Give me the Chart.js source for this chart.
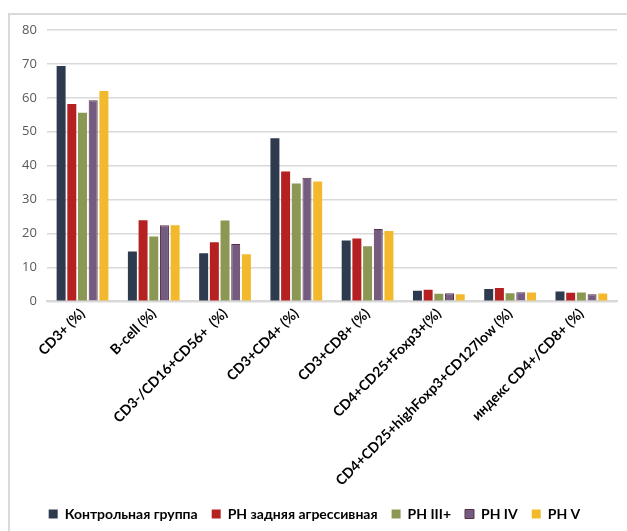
<!DOCTYPE html>
<html>
<head>
<meta charset="utf-8">
<script src="https://cdn.jsdelivr.net/npm/chart.js@4/dist/chart.umd.min.js"></script>
<style>
  html, body { margin: 0; padding: 0; background: #fff; }
  #wrap { position: relative; width: 627px; height: 531px; }
  #frame { position: absolute; left: 8px; top: 13px; right: -4px; bottom: -4px;
           border-left: 2px solid #d9d9d9; border-top: 2px solid #d9d9d9; }
  canvas { position: absolute; left: 0; top: 0; }
</style>
</head>
<body>
<div id="wrap">
  <div id="frame"></div>
  <canvas id="c" width="627" height="531"></canvas>
</div>
<script>
const categories = [
  'CD3+ (%)',
  'B-cell (%)',
  'CD3-/CD16+CD56+  (%)',
  'CD3+CD4+ (%)',
  'CD3+CD8+ (%)',
  'CD4+CD25+Foxp3+(%)',
  'CD4+CD25+highFoxp3+CD127low (%)',
  'индекс CD4+/CD8+ (%)'
];
const seriesNames = ['Контрольная группа', 'PH задняя агрессивная', 'PH III+', 'PH IV', 'PH V'];
const control     = [69.4, 14.7, 14.2, 48.1, 17.9, 3.1, 3.6, 2.9];
const aggressive  = [58.2, 23.9, 17.4, 38.3, 18.5, 3.4, 3.9, 2.5];
const ph3plus     = [55.6, 19.1, 23.8, 34.7, 16.2, 2.2, 2.4, 2.6];
const ph4         = [59.3, 22.4, 16.9, 36.4, 21.3, 2.4, 2.7, 2.1];
const ph5         = [62.0, 22.4, 13.9, 35.3, 20.7, 2.1, 2.6, 2.3];
const yTicks = [0, 10, 20, 30, 40, 50, 60, 70, 80];

const colors  = ['#2e3a4e', '#b52121', '#8b9853', '#735c80', '#f3b92c'];
const borders = ['#2e3a4e', '#b52121', '#8b9853', '#5a3046', '#f3b92c'];
const values  = [control, aggressive, ph3plus, ph4, ph5];

const datasets = seriesNames.map((name, i) => ({
  label: name,
  data: values[i],
  backgroundColor: colors[i],
  borderColor: borders[i],
  borderWidth: i === 3 ? 1 : 0,
  barPercentage: 0.84,
  categoryPercentage: 0.75
}));

const boldFont = (size) => ({ family: 'Lato, "Liberation Sans", sans-serif', size, weight: 'bold' });

new Chart(document.getElementById('c'), {
  type: 'bar',
  data: { labels: categories, datasets },
  options: {
    responsive: false,
    animation: false,
    devicePixelRatio: 1,
    layout: { padding: { top: 30, right: 10, left: 12, bottom: 0 } },
    plugins: {
      tooltip: { enabled: false },
      legend: {
        position: 'bottom',
        labels: {
          boxWidth: 9, boxHeight: 9, padding: 14,
          color: '#000',
          font: boldFont(14)
        }
      }
    },
    scales: {
      x: {
        grid: { display: false, drawTicks: false },
        border: { color: '#d9d9d9', width: 2 },
        ticks: {
          minRotation: 45, maxRotation: 45, padding: 4,
          color: '#000',
          font: boldFont(14)
        }
      },
      y: {
        min: 0, max: 80,
        afterBuildTicks: (axis) => { axis.ticks = yTicks.map(v => ({ value: v })); },
        grid: { color: '#d9d9d9', lineWidth: 1.5, drawTicks: false },
        border: { display: false },
        ticks: {
          padding: 10,
          color: '#595959',
          font: { family: '"Open Sans", "Liberation Sans", sans-serif', size: 13 }
        }
      }
    }
  }
});
</script>
</body>
</html>
